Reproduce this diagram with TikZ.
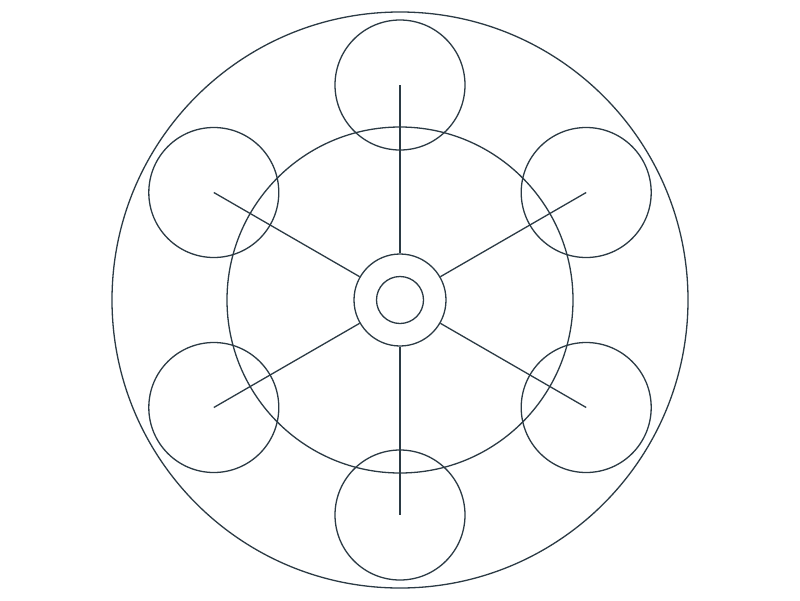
\documentclass[tikz,border=0pt]{standalone}
\usetikzlibrary{calc}
\definecolor{ink}{HTML}{2B3A44}
\begin{document}
\begin{tikzpicture}[x=1pt,y=-1pt,
  ln/.style={draw=ink,line width=1.3pt},
  planet/.style={ln,circle,minimum size=130pt,inner sep=0pt},
  hub/.style={ln,circle,minimum size=92pt,inner sep=0pt},
  axle/.style={ln,circle,minimum size=47pt,inner sep=0pt}]
\useasboundingbox[fill=white] (0,0) rectangle (800,600);
\coordinate (c) at (400,300);
\draw[ln] (c) circle[radius=288];
\draw[ln] (c) circle[radius=173];
\node[hub] (h) at (c) {};
\node[axle] (a) at (c) {};
\foreach \ang/\n in {90/p1,30/p2,-30/p3,-90/p4,-150/p5,150/p6}{
  \node[planet] (\n) at ($(c)+(\ang:215)$) {};
  \coordinate (\n c) at ($(c)+(\ang:215)$);
  \draw[ln] (h.{-\ang}) -- (\n c);
}
\end{tikzpicture}
\end{document}
